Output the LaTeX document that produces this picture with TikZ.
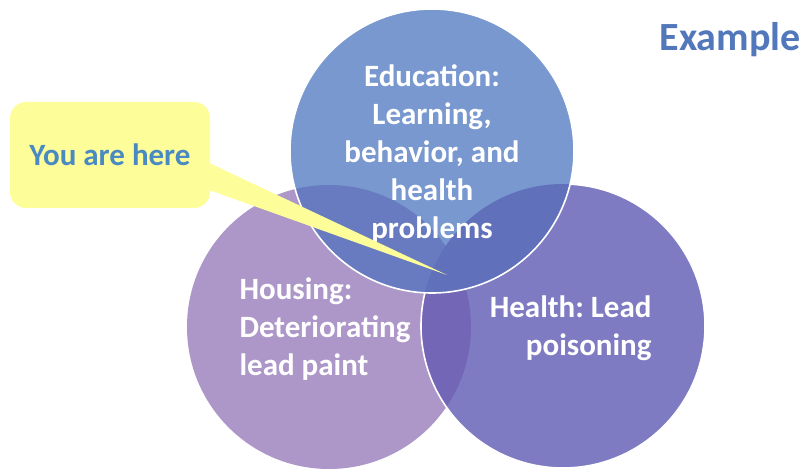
\documentclass[tikz,border=0pt]{standalone}
\usepackage{fontspec}
\setmainfont{Carlito}
\frenchspacing
\usetikzlibrary{calc}
\definecolor{eduBlue}{HTML}{7898CF}
\definecolor{healthViolet}{HTML}{7E7BC2}
\definecolor{houseLilac}{HTML}{AD97C8}
\definecolor{eduHealth}{HTML}{6170BA}
\definecolor{eduHouse}{HTML}{687BC0}
\definecolor{healthHouse}{HTML}{7466B6}
\definecolor{noteYellow}{HTML}{FDFD99}
\definecolor{noteText}{HTML}{4A8AC2}
\definecolor{titleBlue}{HTML}{5277BA}
\begin{document}
\begin{tikzpicture}[x=1pt,y=-1pt]
    \tikzset{circ/.style={circle,minimum size=284pt,inner sep=0pt},
      rim/.style={white,line width=1.6pt},
      lbl/.style={text=white,font=\bfseries\fontsize{31}{38}\selectfont},
      note/.style={fill=noteYellow,rounded corners=16pt,minimum width=200pt,
        minimum height=106pt,text=noteText,font=\bfseries\fontsize{31}{38}\selectfont}}
    \useasboundingbox (0,0) rectangle (812,470);

    % the three circles
    \node[circ,fill=houseLilac] (house) at (329,327) {};
    \node[circ,fill=healthViolet] (health) at (563,326) {};
    \begin{scope}
      \clip (house.center) circle (142);
      \fill[healthHouse] (health.center) circle (142);
    \end{scope}
    \draw[rim] (health.center) circle (142);
    \node[circ,fill=eduBlue] (edu) at (432,151) {};
    \begin{scope}
      \clip (edu.center) circle (142);
      \fill[eduHouse] (house.center) circle (142);
      \fill[eduHealth] (health.center) circle (142);
    \end{scope}
    \draw[rim] (edu.center) circle (142);

    \node[lbl,align=center] (edutext) at ($(edu.center)+(0,3)$) {Education:\\Learning,\\behavior, and\\health\\problems};
    \node[lbl,align=left,anchor=west] (housetext) at (236,329) {Housing:\\Deteriorating\\lead paint};
    \node[lbl,align=right,anchor=east] (healthtext) at (655,328) {Health: Lead\\poisoning};

    % callout
    \node[note] (here) at (110,155) {You are here};
    \coordinate (tip) at (447,275);
    \fill[noteYellow] ($(here.east)+(-1,8)$) -- (tip) -- ($(here.east)+(-1,35)$) -- cycle;

    \node[text=titleBlue,font=\bfseries\fontsize{40}{48}\selectfont] (title) at (730,40) {Example};
\end{tikzpicture}
\end{document}
